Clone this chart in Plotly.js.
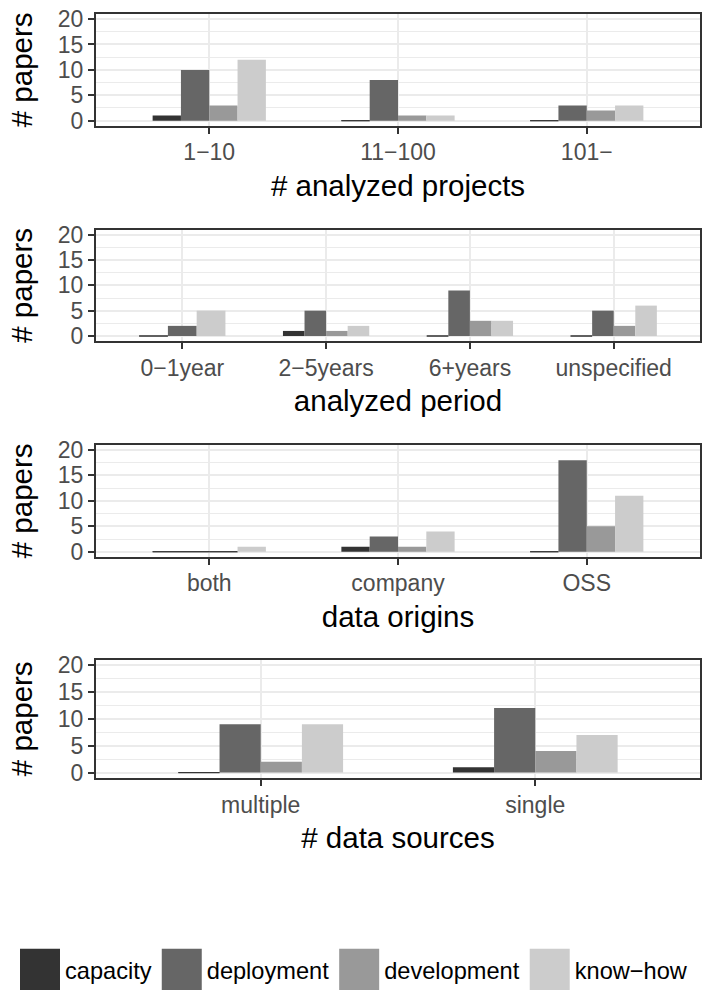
<!DOCTYPE html>
<html><head><meta charset="utf-8">
<script src="https://cdn.plot.ly/plotly-3.0.1.min.js"></script>
<style>
html,body{margin:0;padding:0;background:#fff;overflow:hidden}
#chart{width:708px;height:990px}
</style>
</head><body><div id="chart"></div>
<script>
const seriesNames = ["capacity", "deployment", "development", "know\u2212how"];
const seriesColors = ["#333333", "#666666", "#999999", "#CCCCCC"];

const projCats = ["1\u221210", "11\u2212100", "101\u2212"];
const projCapacity = [1, 0, 0];
const projDeployment = [10, 8, 3];
const projDevelopment = [3, 1, 2];
const projKnowhow = [12, 1, 3];

const periodCats = ["0\u22121year", "2\u22125years", "6+years", "unspecified"];
const periodCapacity = [0, 1, 0, 0];
const periodDeployment = [2, 5, 9, 5];
const periodDevelopment = [null, 1, 3, 2];
const periodKnowhow = [5, 2, 3, 6];

const originCats = ["both", "company", "OSS"];
const originCapacity = [0, 1, 0];
const originDeployment = [0, 3, 18];
const originDevelopment = [0, 1, 5];
const originKnowhow = [1, 4, 11];

const sourceCats = ["multiple", "single"];
const sourceCapacity = [0, 1];
const sourceDeployment = [9, 12];
const sourceDevelopment = [2, 4];
const sourceKnowhow = [9, 7];

const yTicks = [0, 5, 10, 15, 20];
const yMinorTicks = [2.5, 7.5, 12.5, 17.5];

const panels = [
  {cats: projCats, series: [projCapacity, projDeployment, projDevelopment, projKnowhow], title: "# analyzed projects", domain: [0.8537, 1.0]},
  {cats: periodCats, series: [periodCapacity, periodDeployment, periodDevelopment, periodKnowhow], title: "analyzed period", domain: [0.5719, 0.7178]},
  {cats: originCats, series: [originCapacity, originDeployment, originDevelopment, originKnowhow], title: "data origins", domain: [0.2895, 0.4360]},
  {cats: sourceCats, series: [sourceCapacity, sourceDeployment, sourceDevelopment, sourceKnowhow], title: "# data sources", domain: [0.0, 0.1550]}
];

const FONT = "Liberation Sans, Arial, Helvetica, sans-serif";
const TICK_SIZE = 23, TITLE_SIZE = 29.5, LEGEND_SIZE = 23.6;
const GROUP = 0.6;
const traces = [];
const layout = {
  width: 708, height: 990,
  margin: {l: 96, r: 8, t: 14, b: 212, autoexpand: false},
  paper_bgcolor: "#FFFFFF", plot_bgcolor: "#FFFFFF",
  font: {family: FONT, color: "#000000"},
  barmode: "overlay",
  showlegend: true,
  legend: {orientation: "h", x: -0.1341, xanchor: "left", y: -0.2513, yanchor: "middle",
           font: {family: FONT, size: LEGEND_SIZE, color: "#000000"}, itemwidth: 40,
           bgcolor: "rgba(0,0,0,0)", traceorder: "normal"}
};

panels.forEach((p, pi) => {
  const n = p.cats.length;
  const ax = pi === 0 ? "" : String(pi + 1);
  // dodge like ggplot: only the series present in a category share its width
  p.series.forEach((vals, si) => {
    const xs = [], ys = [], ws = [], lws = [], texts = [];
    vals.forEach((v, ci) => {
      if (v === null) return;
      const present = p.series.map((s, k) => s[ci] === null ? -1 : k).filter(k => k >= 0);
      const k = present.length;
      const j = present.indexOf(si);
      const w = GROUP / k;
      xs.push(ci - GROUP / 2 + (j + 0.5) * w);
      ys.push(v);
      ws.push(w);
      lws.push(v === 0 ? 1 : 0);
      texts.push(p.cats[ci]);
    });
    traces.push({
      type: "bar", x: xs, y: ys, width: ws,
      xaxis: "x" + ax, yaxis: "y" + ax,
      name: seriesNames[si], legendgroup: seriesNames[si], showlegend: pi === 0,
      marker: {color: seriesColors[si], line: {color: "#333333", width: lws}},
      hovertext: texts, hoverinfo: "text+y+name"
    });
  });
  layout["xaxis" + ax] = {
    domain: [0, 1], anchor: "y" + ax, range: [-0.6, n - 0.4],
    tickmode: "array", tickvals: p.cats.map((c, i) => i), ticktext: p.cats,
    showgrid: true, gridcolor: "#EBEBEB", gridwidth: 2, zeroline: false,
    showline: true, mirror: true, linecolor: "#333333", linewidth: 2,
    ticks: "outside", ticklen: 6, tickwidth: 2, tickcolor: "#333333",
    ticklabelstandoff: -1,
    tickfont: {family: FONT, size: TICK_SIZE, color: "#4D4D4D"},
    title: {text: p.title, font: {family: FONT, size: TITLE_SIZE, color: "#000000"}, standoff: 11},
    fixedrange: true
  };
  layout["yaxis" + ax] = {
    domain: p.domain, anchor: "x" + ax, range: [-1, 21],
    tickmode: "array", tickvals: yTicks,
    showgrid: true, gridcolor: "#EBEBEB", gridwidth: 2, zeroline: false,
    minor: {tickmode: "array", tickvals: yMinorTicks, showgrid: true, gridcolor: "#EBEBEB", gridwidth: 1, ticks: ""},
    showline: true, mirror: true, linecolor: "#333333", linewidth: 2,
    ticks: "outside", ticklen: 6, tickwidth: 2, tickcolor: "#333333",
    tickfont: {family: FONT, size: TICK_SIZE, color: "#4D4D4D"},
    title: {text: "# papers", font: {family: FONT, size: TITLE_SIZE, color: "#000000"}, standoff: 16},
    fixedrange: true
  };
});

function enlargeLegendKeys(gd) {
  gd.querySelectorAll(".legend .legendpoints path").forEach(el => el.setAttribute("d", "M20,21H-20V-21H20Z"));
  gd.querySelectorAll(".legend [clip-path]").forEach(el => el.removeAttribute("clip-path"));
}

Plotly.newPlot("chart", traces, layout, {displayModeBar: false, staticPlot: true}).then(gd => {
  enlargeLegendKeys(gd);
  gd.on("plotly_afterplot", () => enlargeLegendKeys(gd));
  setTimeout(() => enlargeLegendKeys(gd), 30);
  setTimeout(() => enlargeLegendKeys(gd), 200);
});
</script>
</body></html>
